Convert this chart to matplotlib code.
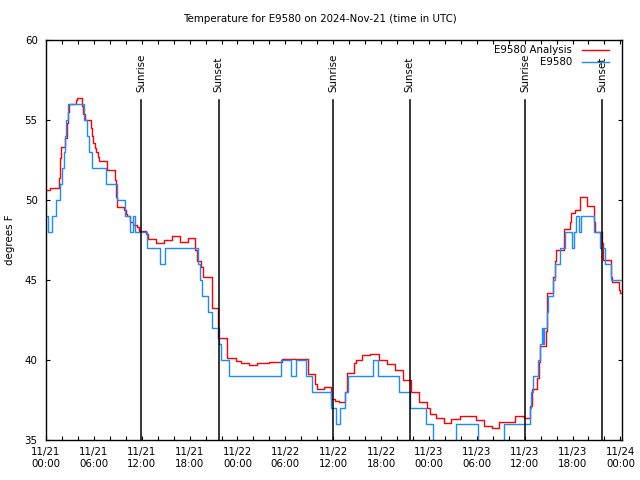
import matplotlib
matplotlib.use("Agg")
import matplotlib.pyplot as plt
from matplotlib.ticker import MultipleLocator
import matplotlib.transforms as mtransforms

# hours since 2024-11-21 00:00 UTC, temperatures in deg F (step data)
analysis_t = [0.0, 0.55, 1.6, 1.7, 1.84, 2.34, 2.59, 2.76, 2.93, 3.72, 3.85, 4.56, 4.65, 4.89,
              5.6, 5.77, 5.94, 6.1, 6.31, 6.52, 6.69, 7.69, 8.7, 8.78, 8.86, 9.78, 9.99, 10.2,
              10.5, 10.96, 11.46, 11.67, 12.58, 12.79, 13.84, 14.8, 15.85, 16.81, 17.81, 18.73,
              18.9, 19.4, 19.69, 20.78, 21.62, 22.7, 23.8, 24.4, 25.4, 26.5, 28.0, 29.6, 32.8,
              33.7, 33.95, 34.79, 35.75, 36.25, 36.67, 37.5, 37.75, 38.6, 38.8, 39.6, 40.6, 41.8,
              42.7, 43.75, 44.7, 45.72, 46.75, 47.75, 48.09, 48.93, 49.85, 50.76, 51.85, 53.94,
              54.86, 55.91, 56.78, 58.83, 59.88, 60.71, 60.92, 61.55, 61.76, 61.97, 62.72, 62.78,
              62.85, 63.6, 63.85, 63.97, 64.9, 65.65, 65.81, 66.3, 66.9, 67.82, 68.74, 68.8, 69.7,
              69.83, 70.83, 70.96, 71.79, 71.95, 72.2]
analysis_v = [50.6, 50.75, 51.35, 52.6, 53.3, 53.85, 54.8, 55.5, 56.0, 56.25, 56.4, 55.9, 55.4, 55.0,
              54.5, 54.0, 53.55, 53.25, 53.0, 52.7, 52.45, 51.9, 51.25, 50.2, 49.55, 49.35, 49.15, 49.0,
              48.65, 48.45, 48.3, 48.05, 47.9, 47.55, 47.3, 47.5, 47.75, 47.35, 47.6, 46.9,
              46.2, 45.8, 45.2, 43.25, 41.35, 40.1, 39.95, 39.8, 39.7, 39.8, 39.85, 40.05, 39.1,
              38.5, 38.2, 38.3, 37.55, 37.45, 37.4, 38.0, 39.2, 39.8, 40.0, 40.3, 40.35, 40.0,
              39.75, 39.4, 38.75, 38.0, 37.4, 37.0, 36.6, 36.4, 36.05, 36.3, 36.5, 36.25,
              35.9, 35.75, 36.1, 36.5, 36.4, 37.1, 38.2, 38.9, 39.9, 40.9, 41.8, 43.3,
              44.2, 45.2, 46.2, 46.9, 48.2, 48.6, 49.2, 49.4, 50.2, 49.6, 48.6, 48.0, 47.3,
              46.25, 45.2, 44.9, 44.4, 44.2, 44.2]

obs_t = [0.0, 0.25, 0.75, 1.3, 1.7, 1.95, 2.25, 2.4, 2.55, 2.75, 4.8, 5.1, 5.35, 5.75, 7.5, 8.9,
         9.9, 10.5, 10.9, 11.2, 12.65, 14.3, 14.9, 19.1, 19.3, 19.6, 20.25, 20.85, 21.7, 21.95,
         22.9, 29.5, 30.7, 31.3, 32.55, 33.4, 35.7, 36.3, 36.85, 37.45, 37.9, 40.95, 41.65, 44.25,
         45.65, 47.6, 48.5, 51.4, 54.15, 57.45, 60.65, 60.85, 61.05, 61.7, 61.95, 62.15, 62.25,
         62.4, 62.75, 62.95, 63.6, 63.85, 64.45, 65.05, 65.95, 66.2, 66.45, 66.85, 67.0, 68.7,
         69.5, 70.1, 70.8, 72.2]
obs_v = [49, 48, 49, 50, 51, 52, 53, 54, 55, 56, 55, 54, 53, 52, 51, 50,
         49, 48, 49, 48, 47, 46, 47, 46, 45, 44, 43, 42, 41, 40,
         39, 40, 39, 40, 39, 38, 37, 36, 37, 38, 39, 40, 39, 38,
         37, 36, 34, 36, 34, 36, 37, 38, 39, 40, 41, 42, 41,
         42, 43, 44, 45, 46, 47, 48, 47, 48, 49, 48, 49, 48,
         47, 46, 45, 45]

sunrise = [11.95, 36.02, 60.1]
sunset = [21.65, 45.6, 69.68]

tick_hours = list(range(0, 73, 6))
tick_labels = ["11/21\n00:00", "11/21\n06:00", "11/21\n12:00", "11/21\n18:00",
               "11/22\n00:00", "11/22\n06:00", "11/22\n12:00", "11/22\n18:00",
               "11/23\n00:00", "11/23\n06:00", "11/23\n12:00", "11/23\n18:00",
               "11/24\n00:00"]

plt.rcParams['font.family'] = ['DejaVu Sans']
fs = 7.4

fig = plt.figure(figsize=(6.4, 4.8), dpi=100)
ax = fig.add_axes([46/640, 40/480, 576/640, 400/480])

red = '#ff0000'
blue = '#1a8cff'
ax.step(analysis_t, analysis_v, where='post', color=red, lw=1.0)
ax.step(obs_t, obs_v, where='post', color=blue, lw=1.0)

trans = mtransforms.blended_transform_factory(ax.transData, ax.transAxes)
for x in sunrise:
    ax.plot([x, x], [0, 0.85], color='black', lw=1.1, transform=trans)
    ax.text(x, 0.87, 'Sunrise', rotation=90, ha='center', va='bottom',
            fontsize=fs, transform=trans)
for x in sunset:
    ax.plot([x, x], [0, 0.85], color='black', lw=1.1, transform=trans)
    ax.text(x, 0.87, 'Sunset', rotation=90, ha='center', va='bottom',
            fontsize=fs, transform=trans)

ax.set_xlim(0, 72.2)
ax.set_ylim(35, 60)
ax.set_xticks(tick_hours)
ax.set_xticklabels(tick_labels, fontsize=fs, linespacing=1.25)
ax.xaxis.set_minor_locator(MultipleLocator(2))
ax.set_yticks([35, 40, 45, 50, 55, 60])
ax.tick_params(axis='both', which='both', direction='in', top=True, right=True,
               length=3, width=0.8, labelsize=fs)
ax.tick_params(axis='x', which='major', pad=5)
ax.tick_params(axis='y', which='major', pad=6)
for s in ax.spines.values():
    s.set_linewidth(1.0)

ax.set_ylabel('degrees F', fontsize=fs)
ax.yaxis.set_label_coords(-31/576, 0.5)

fig.text(0.5, 1 - 19/480, 'Temperature for E9580 on 2024-Nov-21 (time in UTC)',
         ha='center', va='center', fontsize=fs)

# legend, gnuplot style: right-aligned text, sample line at right
ax.text(0.913, 0.975, 'E9580 Analysis', ha='right', va='center', fontsize=fs,
        transform=ax.transAxes)
ax.plot([0.930, 0.977], [0.975, 0.975], color=red, lw=1.0, transform=ax.transAxes)
ax.text(0.913, 0.944, 'E9580', ha='right', va='center', fontsize=fs,
        transform=ax.transAxes)
ax.plot([0.930, 0.977], [0.944, 0.944], color=blue, lw=1.0, transform=ax.transAxes)

fig.savefig('out.png', dpi=100)
